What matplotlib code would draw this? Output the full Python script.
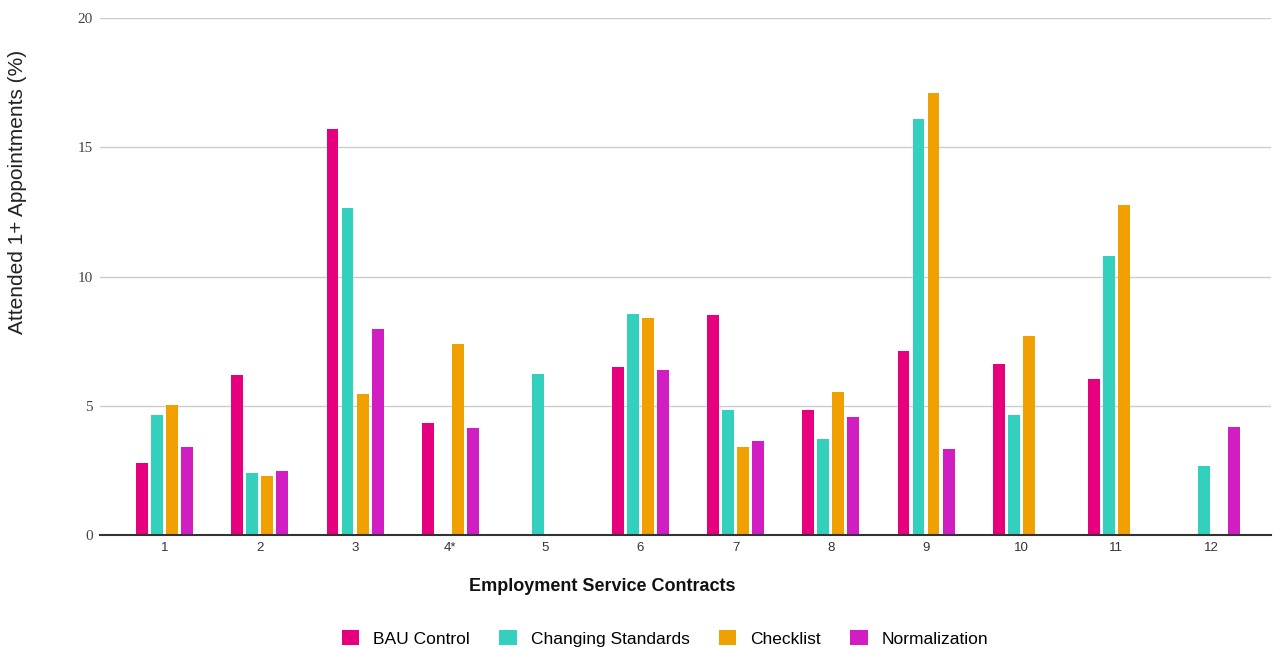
import matplotlib.pyplot as plt
import numpy as np

contracts = ["1", "2", "3", "4*", "5", "6", "7", "8", "9", "10", "11", "12"]
bau_control = [2.8, 6.2, 15.73, 4.32, np.nan, 6.5, 8.52, 4.83, 7.13, 6.62, 6.02, np.nan]
changing_standards = [4.63, 2.39, 12.66, np.nan, 6.23, 8.55, 4.83, 3.71, 16.08, 4.64, 10.8, 2.67]
checklist = [5.04, 2.28, 5.45, 7.39, np.nan, 8.4, 3.39, 5.54, 17.11, 7.71, 12.77, np.nan]
normalization = [3.39, 2.48, 7.98, 4.13, np.nan, 6.38, 3.65, 4.55, 3.33, np.nan, np.nan, 4.17]

series = ["BAU Control", "Changing Standards", "Checklist", "Normalization"]
colors = ["#E6007E", "#33D1BD", "#F0A000", "#D11EC3"]


def main():
    plt.rcParams['font.family'] = ['Liberation Sans', 'DejaVu Sans']
    fig = plt.figure(figsize=(12.74, 6.5), dpi=100)
    ax = fig.add_axes([0.0785, 0.177, 0.9195, 0.795])

    x = np.arange(len(contracts))
    slot = 0.158
    width = 0.125
    data = [bau_control, changing_standards, checklist, normalization]
    handles = []
    for i, (name, vals, col) in enumerate(zip(series, data, colors)):
        offs = (i - 1.5) * slot
        b = ax.bar(x + offs, vals, width=width, color=col, label=name, zorder=3)
        handles.append(b)

    ax.set_xlim(-0.68, 11.63)
    ax.set_ylim(0, 20)
    ax.set_yticks([0, 5, 10, 15, 20])
    ax.set_xticks(x)
    ax.set_xticklabels(contracts, fontsize=9.5, color="#333333",
                       family=['Liberation Sans', 'DejaVu Sans'])
    for lab in ax.get_yticklabels():
        lab.set_family('Liberation Serif')
        lab.set_fontsize(11)
        lab.set_color("#444444")
    ax.tick_params(axis='y', length=0, pad=5)
    ax.tick_params(axis='x', length=0, pad=5)

    ax.grid(axis='y', color="#cccccc", linewidth=1, zorder=0)
    for s in ['top', 'right', 'left']:
        ax.spines[s].set_visible(False)
    ax.spines['bottom'].set_color("#333333")
    ax.spines['bottom'].set_linewidth(1.5)
    ax.spines['bottom'].set_zorder(4)

    fig.text(0.014, 0.705, "Attended 1+ Appointments (%)", rotation=90,
             ha='center', va='center', fontsize=15, color="#222222")
    fig.text(0.4725, 0.097, "Employment Service Contracts", ha='center',
             va='center', fontsize=13, fontweight='bold', color="#111111")

    fig.legend(handles=handles, labels=series, loc='center', ncol=4,
               bbox_to_anchor=(0.522, 0.018), frameon=False, fontsize=12.5,
               handlelength=1.0, handleheight=1.0, columnspacing=1.7,
               handletextpad=0.8)

    fig.savefig("out.png", dpi=100)


if __name__ == "__main__":
    main()
